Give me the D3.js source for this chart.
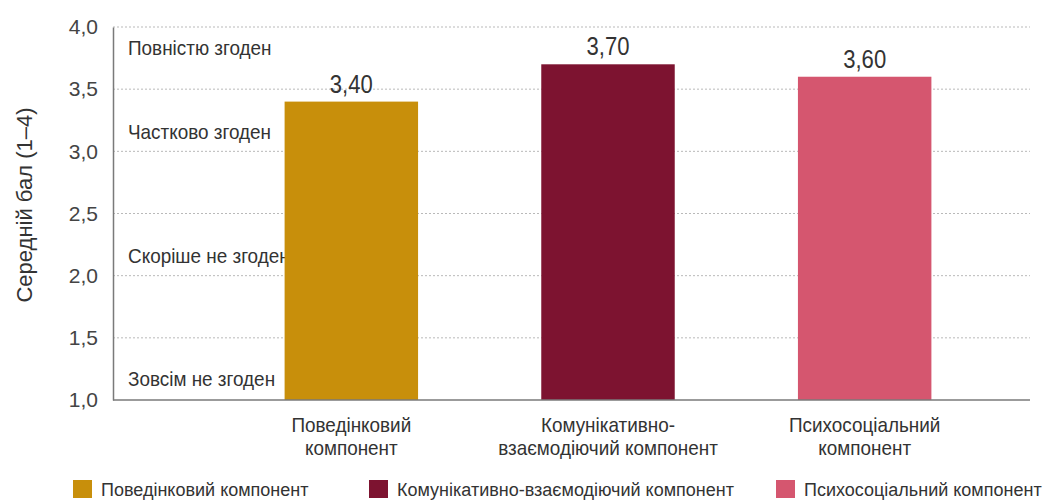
<!DOCTYPE html>
<html>
<head>
<meta charset="utf-8">
<script src="https://cdn.jsdelivr.net/npm/d3@7"></script>
<style>
  html, body { margin: 0; padding: 0; background: #fff; }
  svg text { font-family: "Liberation Sans", Arial, sans-serif; }
</style>
</head>
<body>
<svg id="chart" width="1046" height="503"></svg>
<script>
// Середній бал за компонентами (шкала 1–4)
const categories = ["Поведінковий компонент", "Комунікативно-взаємодіючий компонент", "Психосоціальний компонент"];
const categoryLines = [["Поведінковий", "компонент"], ["Комунікативно-", "взаємодіючий компонент"], ["Психосоціальний", "компонент"]];
const values = [3.40, 3.70, 3.60];
const colors = ["#c88f0b", "#7d1330", "#d5566f"];
const yTicks = [1.0, 1.5, 2.0, 2.5, 3.0, 3.5, 4.0];
const scaleLabels = ["Повністю згоден", "Частково згоден", "Скоріше не згоден", "Зовсім не згоден"];
const scaleLabelLevels = [3.82, 3.14, 2.15, 1.16];
const yTitle = "Середній бал (1–4)";

const svg = d3.select("#chart");
const plot = { left: 113, right: 1030, top: 27, bottom: 400 };
const fmt = v => d3.format(".2f")(v).replace(".", ",");
const fmtTick = v => d3.format(".1f")(v).replace(".", ",");

// squeeze glyphs horizontally to get a condensed look
function condense(sel, k) {
  sel.each(function () {
    const w = this.getComputedTextLength();
    if (w > 0) {
      d3.select(this).attr("textLength", w * k).attr("lengthAdjust", "spacingAndGlyphs");
    }
  });
}

const y = d3.scaleLinear().domain([1, 4]).range([plot.bottom, plot.top]);
const x = d3.scaleBand().domain(categories).range([223, 993]).paddingInner(0.48).paddingOuter(0.24);

// dotted grid lines
svg.append("g")
  .selectAll("line")
  .data(yTicks.filter(t => t > 1))
  .join("line")
  .attr("x1", plot.left).attr("x2", plot.right)
  .attr("y1", d => y(d)).attr("y2", d => y(d))
  .attr("stroke", "#b9b9b9")
  .attr("stroke-width", 1)
  .attr("stroke-dasharray", "2,2");

// y axis with comma decimals
const yAxis = d3.axisLeft(y).tickValues(yTicks).tickFormat(fmtTick).tickSize(0).tickPadding(15);
const gy = svg.append("g").attr("transform", `translate(${plot.left},0)`).call(yAxis);
gy.select(".domain").attr("stroke", "#7a7a7a").attr("stroke-width", 1.5);
gy.selectAll("text").attr("font-size", 21).attr("fill", "#444")
  .style("font-family", "\"Liberation Sans\", Arial, sans-serif");

// agreement labels inside the plot
svg.append("g")
  .selectAll("text")
  .data(scaleLabels)
  .join("text")
  .attr("x", plot.left + 15)
  .attr("y", (d, i) => y(scaleLabelLevels[i]))
  .attr("dominant-baseline", "middle")
  .attr("font-size", 21)
  .attr("fill", "#333")
  .text(d => d)
  .call(condense, 0.9);

// bars
svg.append("g")
  .selectAll("rect")
  .data(values)
  .join("rect")
  .attr("x", (d, i) => x(categories[i]))
  .attr("width", x.bandwidth())
  .attr("y", d => y(d))
  .attr("height", d => y(1) - y(d))
  .attr("fill", (d, i) => colors[i]);

// value labels
svg.append("g")
  .selectAll("text")
  .data(values)
  .join("text")
  .attr("x", (d, i) => x(categories[i]) + x.bandwidth() / 2)
  .attr("y", d => y(d) - 9)
  .attr("text-anchor", "middle")
  .attr("font-size", 26)
  .attr("fill", "#333")
  .text(d => fmt(d))
  .call(condense, 0.85);

// x axis baseline
svg.append("line")
  .attr("x1", plot.left).attr("x2", plot.right)
  .attr("y1", plot.bottom).attr("y2", plot.bottom)
  .attr("stroke", "#7a7a7a").attr("stroke-width", 1.5);

// category labels (two lines)
const xl = svg.append("g")
  .selectAll("text")
  .data(categoryLines)
  .join("text")
  .attr("x", (d, i) => x(categories[i]) + x.bandwidth() / 2)
  .attr("y", 432)
  .attr("text-anchor", "middle")
  .attr("font-size", 21)
  .attr("fill", "#333");
xl.selectAll("tspan")
  .data(d => d)
  .join("tspan")
  .attr("x", function () { return this.parentNode.getAttribute("x"); })
  .attr("dy", (d, i) => i === 0 ? 0 : 23)
  .text(d => d)
  .call(condense, 0.9);

// y axis title
svg.append("text")
  .attr("transform", `translate(32,205) rotate(-90)`)
  .attr("text-anchor", "middle")
  .attr("font-size", 22)
  .attr("fill", "#333")
  .text(yTitle);

// legend
const legendX = [73, 369, 776];
const lg = svg.append("g")
  .selectAll("g")
  .data(categories)
  .join("g")
  .attr("transform", (d, i) => `translate(${legendX[i]},480)`);
lg.append("rect").attr("width", 19).attr("height", 18).attr("fill", (d, i) => colors[i]);
lg.append("text").attr("x", 28).attr("y", 16).attr("font-size", 18).attr("fill", "#333").text(d => d);
</script>
</body>
</html>
